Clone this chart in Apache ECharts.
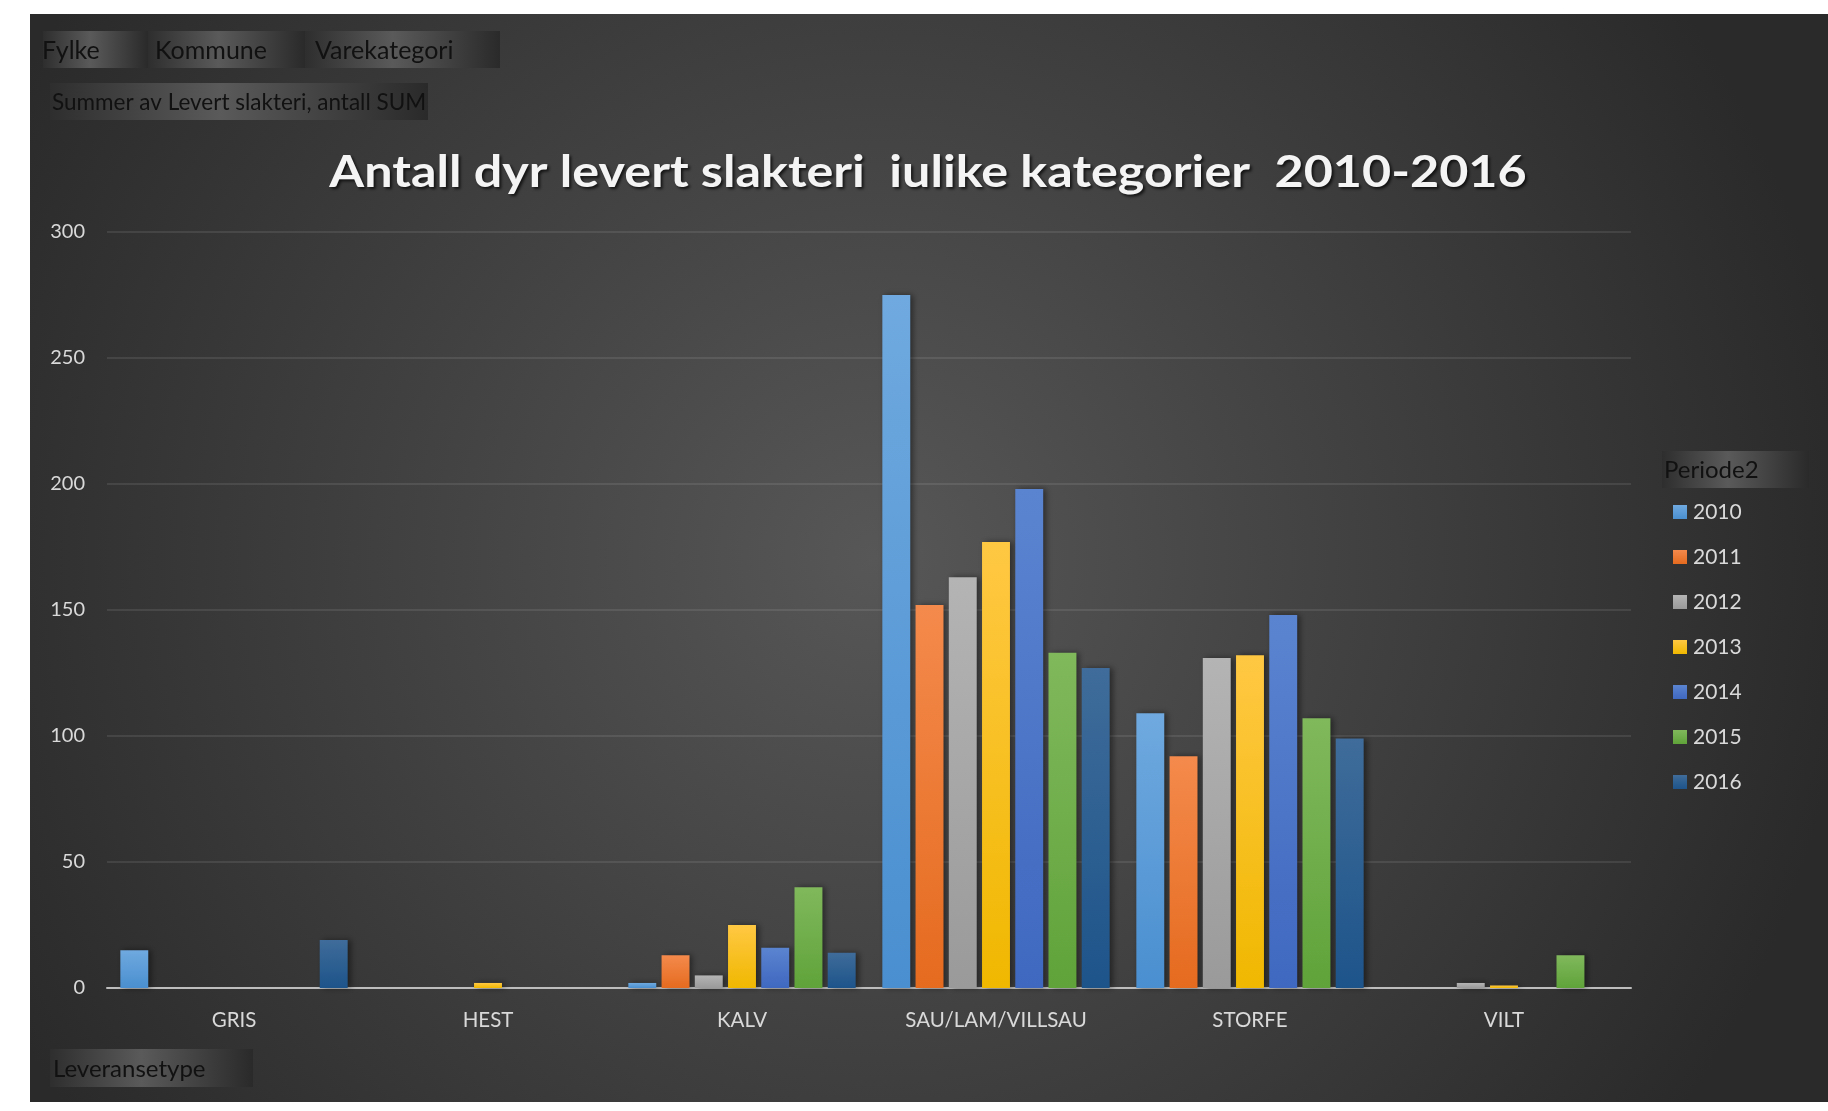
<!DOCTYPE html>
<html>
<head>
<meta charset="utf-8">
<script src="https://cdn.jsdelivr.net/npm/echarts@6/dist/echarts.min.js"></script>
<style>
  html, body { margin: 0; padding: 0; background: #fff; }
  #chartmain { width: 1828px; height: 1111px; }
</style>
</head>
<body>
<div id="chartmain"></div>
<script>
// data
var categories = ['GRIS', 'HEST', 'KALV', 'SAU/LAM/VILLSAU', 'STORFE', 'VILT'];
var years = ['2010', '2011', '2012', '2013', '2014', '2015', '2016'];
var v2010 = [15, null, 2, 275, 109, null];
var v2011 = [null, null, 13, 152, 92, null];
var v2012 = [null, null, 5, 163, 131, 2];
var v2013 = [null, 2, 25, 177, 132, 1];
var v2014 = [null, null, 16, 198, 148, null];
var v2015 = [null, null, 40, 133, 107, 13];
var v2016 = [19, null, 14, 127, 99, null];
var yMin = 0, yMax = 300, yStep = 50;

var seriesValues = [v2010, v2011, v2012, v2013, v2014, v2015, v2016];
// top (lighter) and bottom colours per year
var barColors = [
    ['#6fa9df', '#4a8fd0'],
    ['#f48a4c', '#e56b1f'],
    ['#b4b4b4', '#9a9a9a'],
    ['#ffc843', '#f0b800'],
    ['#5b84d0', '#3f68c0'],
    ['#80b85c', '#60a33a'],
    ['#3f6c9a', '#1d548a']
];

function grad(c) {
    return new echarts.graphic.LinearGradient(0, 0, 0, 1, [
        { offset: 0, color: c[0] },
        { offset: 1, color: c[1] }
    ]);
}

// grey pivot-field button like the excel ones
function pivotBox(x, y, w, h, label, tx, size) {
    return [{
        type: 'rect',
        shape: { x: x, y: y, width: w, height: h },
        style: {
            fill: new echarts.graphic.LinearGradient(0, 0, 1, 0, [
                { offset: 0, color: '#2e2e2e' },
                { offset: 0.45, color: '#5a5a5a' },
                { offset: 1, color: '#2a2a2a' }
            ])
        },
        z: 1
    }, {
        type: 'text',
        x: tx, y: y + h / 2 + 1,
        style: {
            text: label, fill: '#111', font: size + 'px Lato, sans-serif',
            textVerticalAlign: 'middle'
        },
        z: 2
    }];
}

window.onload = function () {
    var series = [];
    for (var i = 0; i < years.length; i++) {
        series.push({
            name: years[i],
            type: 'bar',
            data: seriesValues[i],
            barGap: '19%',
            barCategoryGap: '10.5%',
            itemStyle: {
                color: grad(barColors[i]),
                shadowColor: 'rgba(0,0,0,0.45)',
                shadowBlur: 6,
                shadowOffsetX: 3
            }
        });
    }

    var graphics = [{
        type: 'rect',
        shape: { x: 30, y: 14, width: 1798, height: 1088 },
        style: {
            fill: new echarts.graphic.RadialGradient(0.47, 0.5, 0.9, [
                { offset: 0, color: '#575757' },
                { offset: 1, color: '#2a2a2a' }
            ])
        },
        z: -10
    }, {
        type: 'text',
        x: 928, y: 173,
        scaleX: 1.17,
        style: {
            text: 'Antall dyr levert slakteri  iulike kategorier  2010-2016',
            fill: '#f4f4f4',
            font: 'bold 43px Lato, sans-serif',
            textAlign: 'center',
            textVerticalAlign: 'middle',
            textShadowColor: 'rgba(0,0,0,0.7)',
            textShadowBlur: 3,
            textShadowOffsetX: 2,
            textShadowOffsetY: 2
        },
        z: 5
    }];
    graphics = graphics
        .concat(pivotBox(43, 31, 105, 37, 'Fylke', 42, 25))
        .concat(pivotBox(148, 31, 157, 37, 'Kommune', 155, 25))
        .concat(pivotBox(305, 31, 195, 37, 'Varekategori', 315, 25))
        .concat(pivotBox(50, 83, 378, 37, 'Summer av Levert slakteri, antall SUM', 52, 22.5))
        .concat(pivotBox(50, 1049, 203, 38, 'Leveransetype', 53, 24))
        .concat(pivotBox(1662, 451, 147, 37, 'Periode2', 1664, 24));

    var option = {
        backgroundColor: '#ffffff',
        animation: false,
        graphic: graphics,
        grid: { left: 107, right: 197, top: 232, bottom: 123 },
        legend: {
            data: years,
            orient: 'vertical',
            left: 1668,
            top: 496,
            icon: 'rect',
            itemWidth: 14,
            itemHeight: 14,
            itemGap: 23,
            textStyle: { color: '#d9d9d9', fontSize: 21, lineHeight: 22, fontFamily: 'Lato', padding: [0, 0, 0, 1] }
        },
        xAxis: {
            type: 'category',
            data: categories,
            axisTick: { show: false },
            axisLine: { lineStyle: { color: '#bdbdbd', width: 2 } },
            axisLabel: { color: '#d9d9d9', fontSize: 20.5, fontFamily: 'Lato', margin: 22 }
        },
        yAxis: {
            type: 'value',
            min: yMin,
            max: yMax,
            interval: yStep,
            axisLine: { show: false },
            axisTick: { show: false },
            splitLine: { lineStyle: { color: 'rgba(255,255,255,0.09)', width: 2 } },
            axisLabel: { color: '#d9d9d9', fontSize: 20, fontFamily: 'Lato', margin: 22 }
        },
        series: series
    };

    var myChart = echarts.init(document.getElementById('chartmain'));
    myChart.setOption(option);
};
</script>
</body>
</html>
